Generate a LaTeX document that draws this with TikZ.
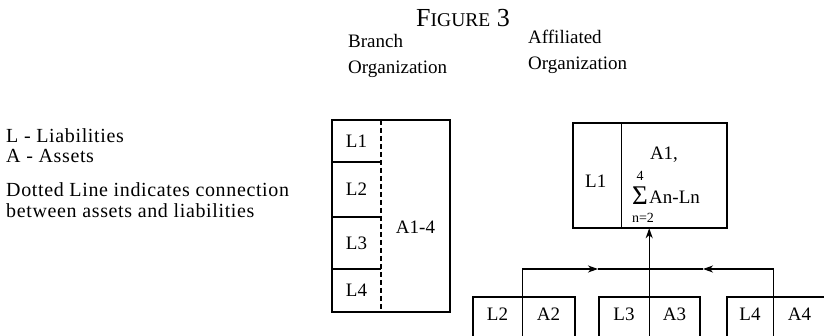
\documentclass[tikz,border=0pt]{standalone}
\usepackage{fontspec}
\setmainfont{Liberation Serif}
\newfontfamily\legendfont[LetterSpace=3.2]{Liberation Serif}
\usetikzlibrary{arrows.meta}
\tikzset{
  txt/.style={inner sep=0pt, font=\legendfont\fontsize{20}{20}\selectfont},
  head/.style={inner sep=0pt, font=\fontsize{19}{20}\selectfont},
  cell/.style={inner sep=0pt, font=\fontsize{19}{20}\selectfont},
  frame/.style={line width=2pt},
  thinline/.style={line width=1.1pt},
  wire/.style={line width=1.4pt},
  tip/.style={-{Stealth[length=10pt,width=7pt,inset=3pt]}}
}
\begin{document}
\begin{tikzpicture}[x=1pt,y=-1pt]
\useasboundingbox (0,0) rectangle (824,335);
\clip (0,0) rectangle (824,335);

% title and headings
\node[anchor=base, inner sep=0pt] (title) at (463,26)
  {\fontsize{26}{26}\selectfont F\fontsize{19.5}{19.5}\selectfont IGURE\fontsize{26}{26}\selectfont\ 3};
\node[head, anchor=base west] (br1) at (348,47) {Branch};
\node[head, anchor=base west] (br2) at (348,73) {Organization};
\node[head, anchor=base west] (af1) at (528,43) {Affiliated};
\node[head, anchor=base west] (af2) at (528,69) {Organization};

% legend
\node[txt, anchor=base west] (k1) at (6,142) {L - Liabilities};
\node[txt, anchor=base west] (k2) at (6,162) {A - Assets};
\node[txt, anchor=base west] (k3) at (6,196) {Dotted Line indicates connection};
\node[txt, anchor=base west] (k4) at (6,217) {between assets and liabilities};

% branch organization: four liability cells beside one asset cell
\node[cell, minimum width=49pt, minimum height=42pt] (b1) at (356.5,141) {L1};
\node[cell, minimum width=49pt, minimum height=55pt] (b2) at (356.5,189.5) {L2};
\node[cell, minimum width=49pt, minimum height=52pt] (b3) at (356.5,243) {L3};
\node[cell, minimum width=49pt, minimum height=43pt] (b4) at (356.5,290.5) {L4};
\node[cell] (ba) at (415.5,227) {A1-4};
\draw[line width=1.5pt] (b1.north west) rectangle (450,312);
\draw[frame] (b2.north west) -- (b2.north east);
\draw[frame] (b3.north west) -- (b3.north east);
\draw[frame] (b4.north west) -- (b4.north east);
\draw[line width=1.5pt, dash pattern=on 5pt off 3pt] (b1.north east) -- (b4.south east);

% affiliated organization
\node[cell, minimum width=48pt, minimum height=105pt] (al1) at (597,175.5) {};
\node[cell, anchor=base west] at (585,187) {L1};
\node[cell, minimum width=106pt, minimum height=105pt] (aa) at (674,175.5) {};
\draw[line width=2.5pt] (al1.north west) rectangle (aa.south east);
\draw[thinline] (al1.north east) -- (al1.south east);
\node[cell, anchor=base] (a1) at (664,159) {A1,};
\node[inner sep=0pt, font=\fontsize{14}{14}\selectfont] (s4) at (640,176) {4};
\node[inner sep=0pt, font=\fontsize{27}{27}\selectfont, anchor=base] (sig) at (640,204) {Σ};
\node[cell, anchor=base west] (anln) at (649,203) {An-Ln};
\node[inner sep=0pt, font=\fontsize{14}{14}\selectfont] (n2) at (643,218) {n=2};

% subsidiary boxes
\node[cell, minimum width=49pt, minimum height=34pt, anchor=north] (l2) at (497.5,297) {L2};
\node[cell, minimum width=53pt, minimum height=34pt, anchor=north] (a2) at (548.5,297) {A2};
\node[cell, minimum width=50pt, minimum height=34pt, anchor=north] (l3) at (624,297) {L3};
\node[cell, minimum width=51pt, minimum height=34pt, anchor=north] (a3) at (674.5,297) {A3};
\node[cell, minimum width=46pt, minimum height=34pt, anchor=north] (l4) at (750,297) {L4};
\node[cell, minimum width=53pt, minimum height=34pt, anchor=north] (a4) at (799.5,297) {A4};
\foreach \l/\a in {l2/a2, l3/a3, l4/a4}{
  \draw[line width=2.5pt] (\l.south west) -- ++(0,10) -- (\l.north west) -- (\a.north east) -- (\a.south east) -- ++(0,10);
  \draw[thinline] (\l.north east) -- (\l.south east) -- ++(0,10);
}

% connectors
\coordinate (jl) at (598,269);
\coordinate (jr) at (703,269);
\draw[wire, tip] (l2.north east) |- (jl);
\draw[wire] (jl) -- (jr);
\draw[wire, tip] (l4.north east) |- (jr);
\draw[wire, tip] (l3.north east) -- (l3.north east |- aa.south);
\end{tikzpicture}
\end{document}
